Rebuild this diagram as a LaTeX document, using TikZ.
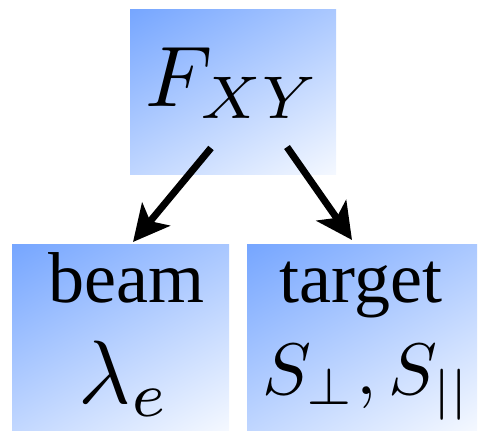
\documentclass[tikz,border=0pt]{standalone}
\usepackage{fontspec}
\newfontfamily\fa{Liberation Serif}
\usetikzlibrary{arrows.meta}
\definecolor{boxblue}{RGB}{118,166,255}
\definecolor{boxwhite}{RGB}{244,248,255}
\pgfdeclareverticalshading{diagbox}{100bp}{color(0bp)=(boxwhite); color(15.85bp)=(boxwhite); color(84.15bp)=(boxblue); color(100bp)=(boxblue)}
\begin{document}
\begin{tikzpicture}[x=1pt,y=-1pt,
  box/.style={shade, shading=diagbox, shading angle=30, inner sep=0pt, outer sep=0pt, draw=none},
  arr/.style={-{Stealth[length=36pt,width=36pt,inset=9pt]}, line width=7pt},
  txt/.style={inner sep=0pt, anchor=base}]
\useasboundingbox (0,0) rectangle (479,431);
\node[box, minimum width=206pt, minimum height=165pt] (top) at (233,91.5) {};
\node[box, minimum width=217pt, minimum height=186pt] (beam) at (120.5,337) {};
\node[box, minimum width=230pt, minimum height=186pt] (target) at (362,337) {};
\node[txt] (beamtxt) at (126.5,302) {\fontsize{72}{80}\selectfont\fa beam};
\node[txt] (targettxt) at (361,302) {\fontsize{72}{80}\selectfont\fa target};
\node[txt] (ftxt) at (233,106) {\scalebox{8.6}{$F_{XY}$}};
\node[txt] (lamtxt) at (124.5,403) {\scalebox{9}{$\lambda_e$}};
\node[txt] (stxt) at (367,394) {\scalebox{7.3}{$S_\perp, S_{||}$}};
\draw[arr] ([xshift=-22pt,yshift=26pt]top.south) -- ([xshift=12.5pt,yshift=2pt]beam.north);
\draw[arr] ([xshift=54pt,yshift=27pt]top.south) -- ([xshift=-10pt,yshift=4pt]target.north);
\end{tikzpicture}
\end{document}
